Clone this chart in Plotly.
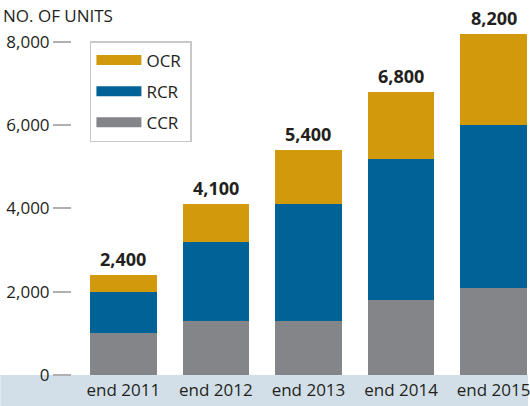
import plotly.graph_objects as go

categories = ["end 2011", "end 2012", "end 2013", "end 2014", "end 2015"]
ccr = [1000, 1300, 1300, 1800, 2100]
rcr = [1000, 1900, 2800, 3400, 3900]
ocr = [400, 900, 1300, 1600, 2200]
totals = [2400, 4100, 5400, 6800, 8200]
y_ticks = [0, 2000, 4000, 6000, 8000]
y_ticklabels = ["0", "2,000", "4,000", "6,000", "8,000"]
series_names = ["CCR", "RCR", "OCR"]
series_colors = ["#848589", "#006296", "#d3990c"]

FONT = "Open Sans"
DARK = "#231f20"

fig = go.Figure()
for name, vals, col in zip(series_names, [ccr, rcr, ocr], series_colors):
    fig.add_trace(go.Bar(x=categories, y=vals, name=name, marker=dict(color=col, line_width=0),
                         width=0.72, showlegend=False))
# legend entries (wide rectangular swatches), top-to-bottom OCR, RCR, CCR
for name, col in list(zip(series_names, series_colors))[::-1]:
    fig.add_trace(go.Scatter(x=[None], y=[None], mode="lines", name=name + "&nbsp;",
                             legendgroup=name, line=dict(color=col, width=13), showlegend=True))

for c, t in zip(categories, totals):
    fig.add_annotation(x=c, y=t, text=f"<b>{t:,}</b>", showarrow=False, yanchor="bottom", yshift=2,
                       font=dict(family=FONT, size=18, color=DARK))

L, R, T, B = 72, 0, 21, 31
W, H = 530, 406
pw = W - L - R
ph = H - T - B
px_per_1000 = 41.63

fig.add_shape(type="rect", xref="paper", yref="paper", x0=-L / pw, x1=1.0, y0=-B / ph, y1=0,
              fillcolor="#d3dfe8", line_width=0, layer="below")

fig.add_annotation(xref="paper", yref="paper", x=-71 / pw, y=1 + 6 / ph, xanchor="left", yanchor="middle",
                   text="NO. OF UNITS", showarrow=False, font=dict(family=FONT, size=17, color=DARK))

x0 = -(123.5 - L) / 93
fig.update_layout(
    width=W, height=H,
    margin=dict(l=L, r=R, t=T, b=B, pad=0),
    plot_bgcolor="white", paper_bgcolor="white",
    barmode="stack",
    showlegend=True,
    legend=dict(x=18 / pw, y=1 - (41 - T) / ph, xanchor="left", yanchor="top",
                bordercolor="#c8c8c8", borderwidth=1.5, bgcolor="white",
                traceorder="grouped", font=dict(family=FONT, size=17, color=DARK),
                tracegroupgap=6, itemwidth=45),
    xaxis=dict(range=[x0, x0 + pw / 93], showgrid=False, zeroline=False, showline=False, ticks="",
               ticklabelstandoff=3,
               tickfont=dict(family=FONT, size=17, color=DARK), fixedrange=True),
    yaxis=dict(range=[0, ph / px_per_1000 * 1000], tickvals=y_ticks, ticktext=y_ticklabels, showgrid=False,
               zeroline=False, showline=False, ticks="outside", ticklen=18, tickwidth=1.5,
               tickcolor="#b0b0b0", tickfont=dict(family=FONT, size=17, color=DARK)),
)

fig.write_html("out.html")
